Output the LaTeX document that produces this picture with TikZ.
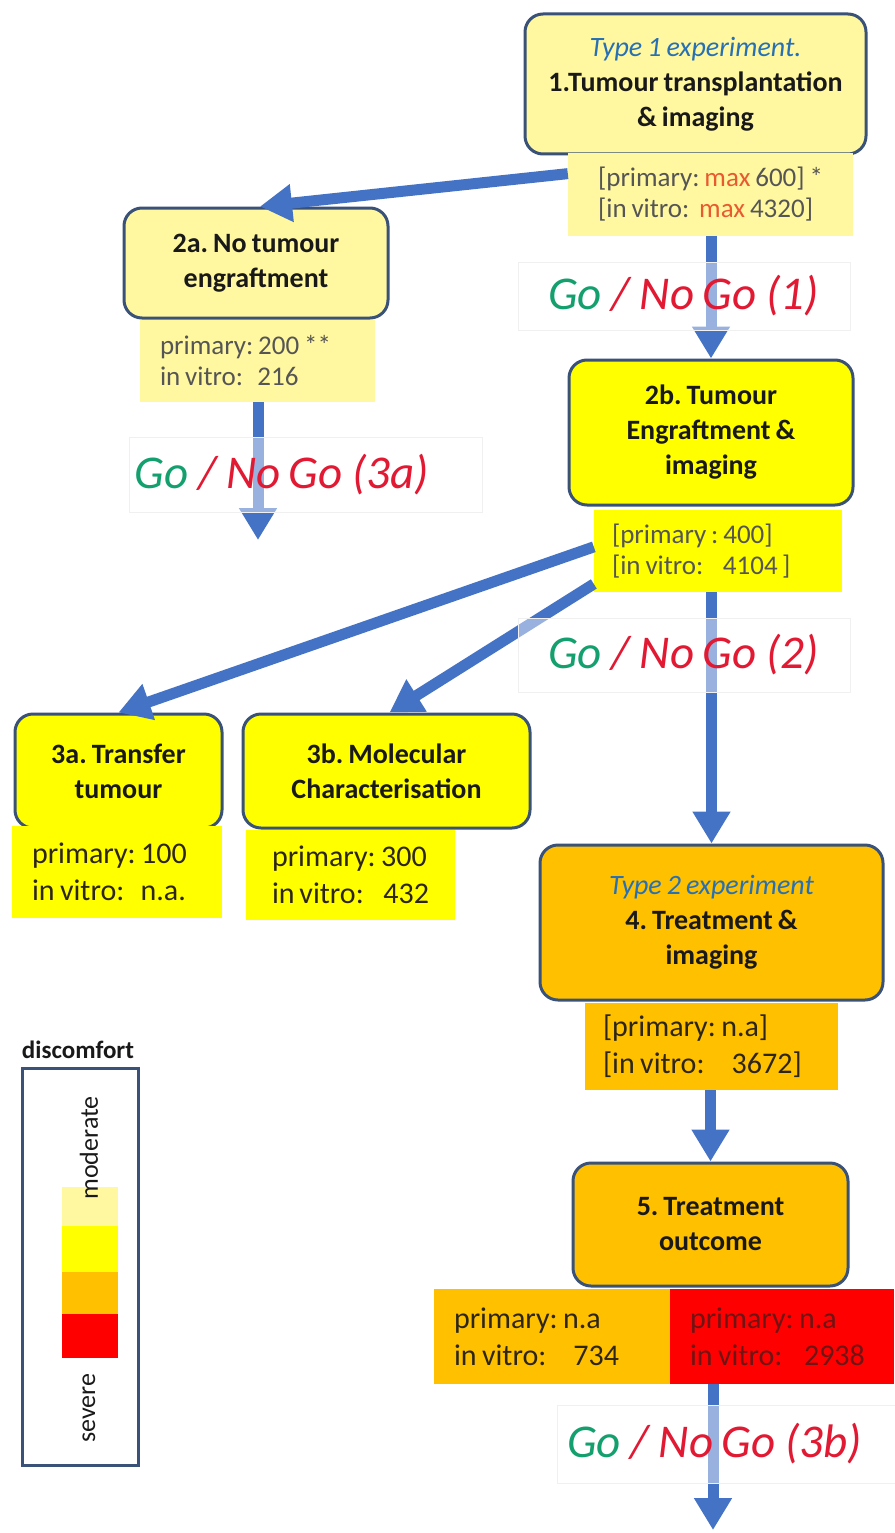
\documentclass[tikz,border=0pt]{standalone}
\usepackage{fontspec}
\setmainfont{Carlito}[WordSpace=0.8]
\usetikzlibrary{arrows.meta,calc}
\frenchspacing
\definecolor{lightyel}{RGB}{255,248,160}
\definecolor{yel}{RGB}{255,255,0}
\definecolor{orng}{RGB}{255,192,0}
\definecolor{redc}{RGB}{255,0,0}
\definecolor{bordercol}{RGB}{58,82,120}
\definecolor{arrowblue}{RGB}{68,114,196}
\definecolor{typeblue}{RGB}{40,112,180}
\definecolor{datagray}{RGB}{85,85,85}
\definecolor{maxred}{RGB}{232,90,50}
\definecolor{darktext}{RGB}{45,38,20}
\definecolor{boxtext}{RGB}{25,25,25}
\definecolor{gogreen}{RGB}{20,160,110}
\definecolor{nogored}{RGB}{225,25,50}
\definecolor{redtext}{RGB}{110,20,20}
\newcommand{\boxfnt}{\fontsize{28}{35}\selectfont\bfseries}
\newcommand{\smalldata}{\fontsize{27}{31}\selectfont}
\newcommand{\bigdata}{\fontsize{30}{37}\selectfont}
\newcommand{\gngfnt}{\fontsize{47}{52}\selectfont\itshape}
\newcommand{\fsp}{\spaceskip=0pt\xspaceskip=0pt\relax}
\newcommand{\gngtext}[1]{\textcolor{gogreen}{Go}\kern10pt\textcolor{nogored}{/\kern10pt No\kern8pt Go\kern10pt(#1)}}
\tikzset{
  stepbox/.style={draw=bordercol, line width=3pt, rounded corners=18pt, align=center, font=\boxfnt, text=boxtext, inner sep=2pt},
  databox/.style={inner sep=0pt, align=left},
  arr/.style={draw=arrowblue, line width=11pt, -{Triangle[length=32pt,width=36pt]}},
  gng/.style={fill=white, fill opacity=0.45, text opacity=1, draw=black!6, font=\gngfnt, inner sep=0pt, align=left},
}
\begin{document}
\begin{tikzpicture}[x=1pt,y=-1pt]
\useasboundingbox[fill=white] (0,0) rectangle (894,1533);
% step boxes
\node[stepbox, fill=lightyel, minimum width=341pt, minimum height=140pt] (b1) at (695.5,84)
  {{\color{typeblue}\mdseries\itshape Type 1 experiment.}\\1.Tumour transplantation\\\& imaging};
\node[databox, fill=lightyel, minimum width=285pt, minimum height=83pt, font=\smalldata, text=datagray] (d1) at (710.5,194.5)
  {{[}primary: \textcolor{maxred}{max} 600{]} *\\{[}in vitro:\ \ \textcolor{maxred}{max} 4320{]}};
\node[stepbox, fill=lightyel, minimum width=264pt, minimum height=110pt] (b2a) at (256,263)
  {2a. No tumour\\engraftment};
\node[databox, fill=lightyel, inner xsep=20pt, text width=195pt, minimum height=82pt, font=\smalldata, text=datagray] (d2a) at (257.5,361)
  {\fsp primary: 200 **\\in vitro:\ \ \,216};
\node[stepbox, fill=yel, minimum width=284pt, minimum height=145pt] (b2b) at (711,432.5)
  {2b. Tumour\\Engraftment \&\\imaging};
\node[databox, fill=yel, inner xsep=18pt, text width=212pt, minimum height=82pt, font=\smalldata, text=datagray] (d2b) at (718,551)
  {\fsp{[}primary : 400{]}\\{[}in vitro:\ \ \ \ 4104{\,]}};
\node[stepbox, fill=yel, minimum width=207pt, minimum height=114pt] (b3a) at (118.5,771)
  {3a. Transfer\\tumour};
\node[databox, fill=yel, inner xsep=20pt, text width=170pt, minimum height=92pt, font=\bigdata, text=darktext] (d3a) at (117,872)
  {\fsp primary: 100\\in vitro:\ \ \ n.a.};
\node[stepbox, fill=yel, minimum width=287pt, minimum height=114pt] (b3b) at (386.5,771)
  {3b. Molecular\\Characterisation};
\node[databox, fill=yel, inner xsep=26pt, text width=157pt, minimum height=90pt, font=\bigdata, text=darktext] (d3b) at (350.5,875)
  {\fsp primary: 300\\in vitro:\ \ \ \ 432};
\node[stepbox, fill=orng, minimum width=343pt, minimum height=155pt] (b4) at (711.5,922.5)
  {{\color{typeblue}\mdseries\itshape Type 2 experiment}\\4. Treatment \&\\imaging};
\node[databox, fill=orng, inner xsep=18pt, text width=217pt, minimum height=87pt, font=\bigdata, text=darktext] (d4) at (711.5,1046.5)
  {\fsp{[}primary: n.a{]}\\{[}in vitro:\ \ \ \ \ 3672{]}};
\node[stepbox, fill=orng, minimum width=275pt, minimum height=123pt] (b5) at (710.5,1224.5)
  {5. Treatment\\outcome};
\node[databox, fill=orng, inner xsep=20pt, text width=196pt, minimum height=95pt, font=\bigdata, text=darktext] (d5a) at (552,1336.5)
  {\fsp primary: n.a\\in vitro:\ \ \ \ \ 734};
\node[databox, fill=redc, inner xsep=20pt, text width=184pt, minimum height=95pt, font=\bigdata, text=redtext] (d5b) at (782,1336.5)
  {\fsp primary: n.a\\in vitro:\ \ \ \ 2938};
% free ends
\coordinate (e3a) at (258,540);
\coordinate (e5) at (713,1530);
% arrows
\draw[arr] ($(d1.north west)!0.25!(d1.south west)$) -- ([xshift=4pt]b2a.north);
\draw[arr] (d1.south -| b2b.north) -- (b2b.north);
\draw[arr] (d2a.south -| e3a) -- (e3a);
\draw[arr] ($(d2b.north west)!0.45!(d2b.south west)$) -- (b3a.north);
\draw[arr] ($(d2b.north west)!0.9!(d2b.south west)$) -- ([xshift=3pt]b3b.north);
\draw[arr] (d2b.south -| b4.north) -- (b4.north);
\draw[arr] (d4.south -| b5.north) -- (b5.north);
\draw[arr] (e5 |- d5a.south) -- (e5);
% go / no go labels
\node[gng, text width=272pt, inner xsep=30pt, minimum height=68pt] (g1) at (684,296) {\gngtext{1}};
\node[gng, text width=343pt, inner xsep=5pt, minimum height=75pt] (g3a) at (306,475) {\gngtext{3a}};
\node[gng, text width=272pt, inner xsep=30pt, minimum height=74pt] (g2) at (684,655) {\gngtext{2}};
\node[gng, text width=320pt, inner xsep=10pt, minimum height=78pt] (g3b) at (727,1444) {\gngtext{3b}};
% legend
\node[font=\fontsize{25}{30}\selectfont\bfseries, text=boxtext] (disc) at (78,1050) {discomfort};
\node[draw=bordercol, line width=3pt, fill=white, minimum width=116pt, minimum height=397pt, inner sep=0pt] (leg) at (80,1266.5) {};
\fill[lightyel] (62,1187) rectangle (118,1226);
\fill[yel] (62,1226) rectangle (118,1272);
\fill[orng] (62,1272) rectangle (118,1314);
\fill[redc] (62,1314) rectangle (118,1358);
\node[rotate=90, font=\fontsize{26}{30}\selectfont, text=boxtext] (mod) at (89,1148) {moderate};
\node[rotate=90, font=\fontsize{26}{30}\selectfont, text=boxtext] (sev) at (89,1408) {severe};
\end{tikzpicture}
\end{document}
